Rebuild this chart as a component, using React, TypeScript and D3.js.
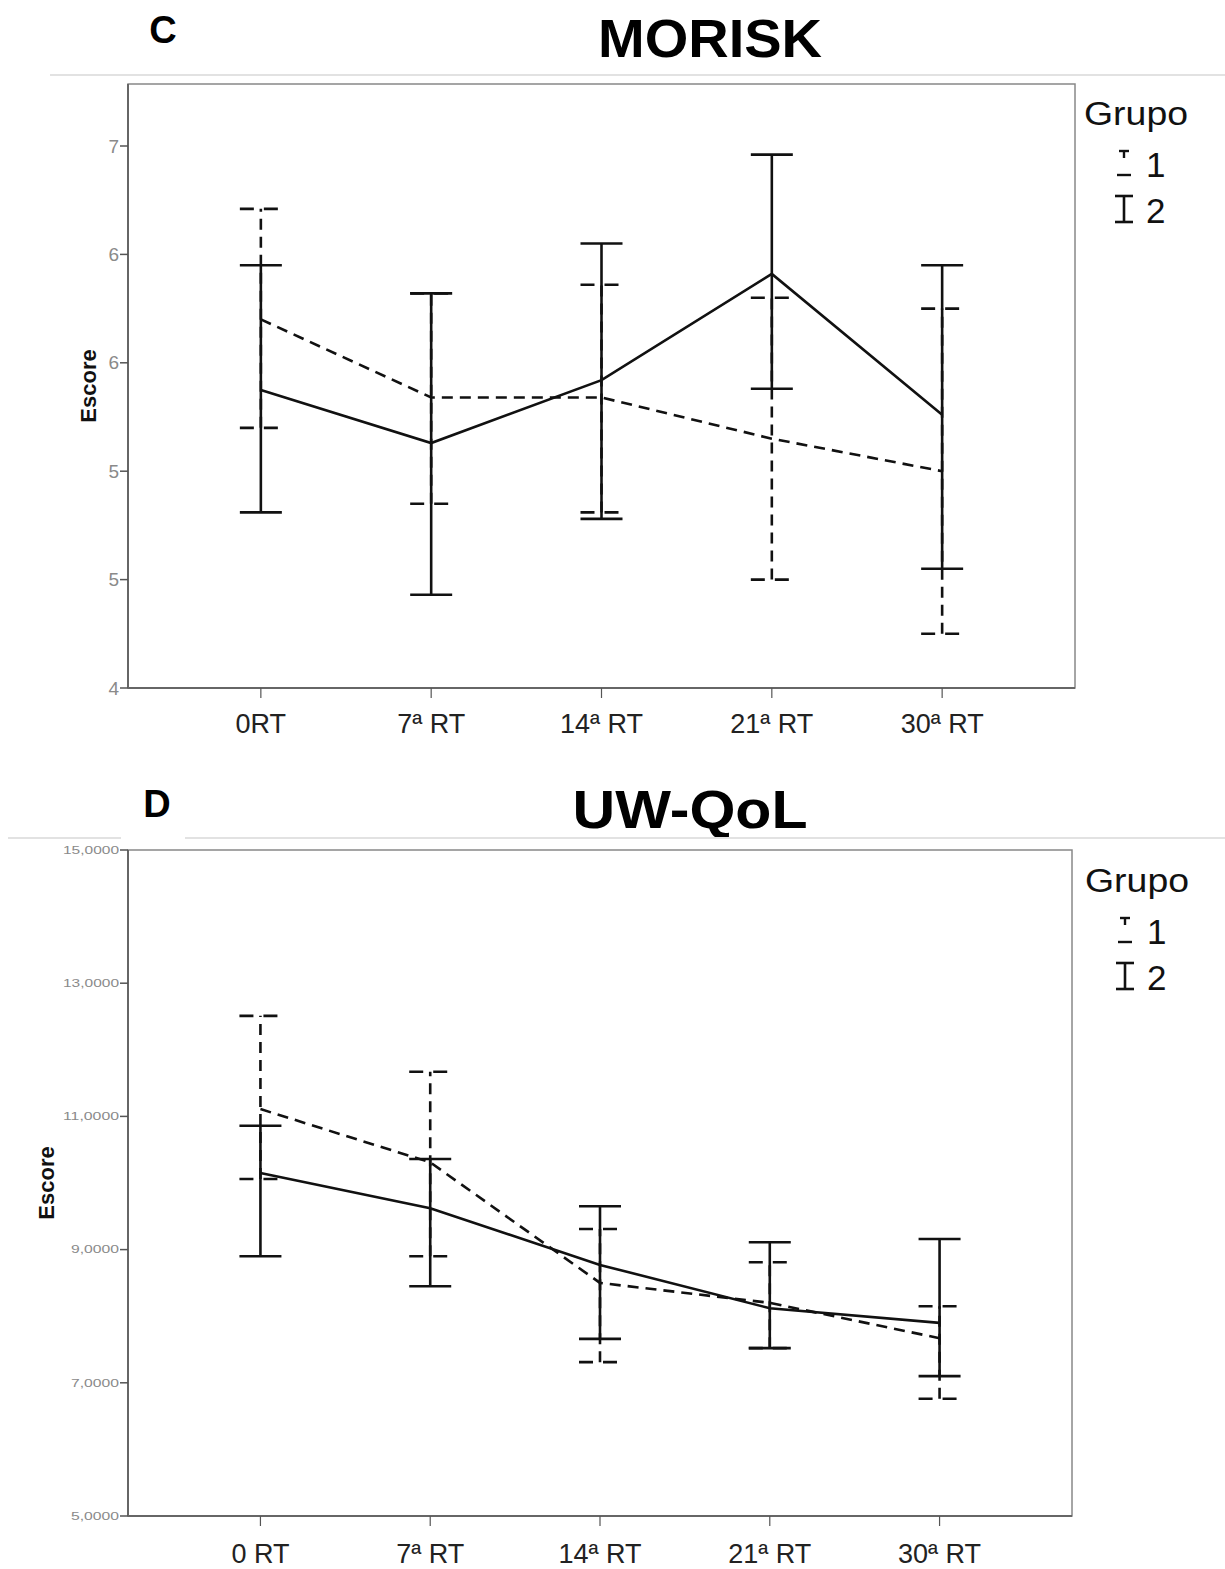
import React from "react";
import * as d3 from "d3";

const categoriesC = ["0RT", "7ª RT", "14ª RT", "21ª RT", "30ª RT"];
const categoriesD = ["0 RT", "7ª RT", "14ª RT", "21ª RT", "30ª RT"];

// MORISK
const morG1Mean = [5.70, 5.34, 5.34, 5.15, 5.0];
const morG1Low = [5.2, 4.85, 4.81, 4.5, 4.25];
const morG1High = [6.21, 5.82, 5.86, 5.8, 5.75];
const morG2Mean = [5.375, 5.13, 5.42, 5.91, 5.26];
const morG2Low = [4.81, 4.43, 4.78, 5.38, 4.55];
const morG2High = [5.95, 5.82, 6.05, 6.46, 5.95];
const morTicks = [4, 4.5, 5, 5.5, 6, 6.5];
const morTickLabels = ["4", "5", "5", "6", "6", "7"];

// UW-QoL
const uwG1Mean = [11.11, 10.31, 8.50, 8.20, 7.67];
const uwG1Low = [10.06, 8.90, 7.31, 7.52, 6.76];
const uwG1High = [12.51, 11.67, 9.31, 8.81, 8.15];
const uwG2Mean = [10.15, 9.62, 8.77, 8.12, 7.90];
const uwG2Low = [8.90, 8.45, 7.66, 7.52, 7.10];
const uwG2High = [10.86, 10.36, 9.65, 9.11, 9.16];
const uwTicks = [5, 7, 9, 11, 13, 15];
const uwTickLabels = ["5,0000", "7,0000", "9,0000", "11,0000", "13,0000", "15,0000"];

const groups = ["1", "2"];

type PanelProps = {
  cats: string[];
  g1: [number[], number[], number[]];
  g2: [number[], number[], number[]];
  domain: [number, number];
  ticks: number[];
  tickLabels: string[];
  left: number; right: number; top: number; bottom: number;
  tickFont: number;
  tickStretch: number;
  tickLabelX: number;
  escoreX: number;
  xLabelY: number;
  legendY: number;
  legendX: number;
};

const FONT = "'Liberation Sans', Arial, Helvetica, sans-serif";

function Panel(p: PanelProps) {
  const x = d3.scalePoint<string>().domain(p.cats).range([p.left, p.right]).padding(0.78);
  const y = d3.scaleLinear().domain(p.domain).range([p.bottom, p.top]);
  const line = d3.line<number>().x((_, i) => x(p.cats[i])!).y((v) => y(v));
  const cap = 21;
  const bars = (s: [number[], number[], number[]], dashed: boolean) =>
    p.cats.map((c, i) => {
      const cx = x(c)!;
      const dash = dashed ? "11,7" : undefined;
      const capDash = dashed ? "14,10" : undefined;
      return (
        <g key={c}>
          <line x1={cx} x2={cx} y1={y(s[1][i])} y2={y(s[2][i])} stroke="#111" strokeWidth={2.6} strokeDasharray={dash} />
          <line x1={cx - cap} x2={cx + cap} y1={y(s[1][i])} y2={y(s[1][i])} stroke="#111" strokeWidth={2.6} strokeDasharray={capDash} />
          <line x1={cx - cap} x2={cx + cap} y1={y(s[2][i])} y2={y(s[2][i])} stroke="#111" strokeWidth={2.6} strokeDasharray={capDash} />
        </g>
      );
    });
  const mid = (p.top + p.bottom) / 2;
  return (
    <g>
      <rect x={p.left} y={p.top} width={p.right - p.left} height={p.bottom - p.top} fill="none" stroke="#888" strokeWidth={1.5} />
      <line x1={p.left} x2={p.left} y1={p.top} y2={p.bottom} stroke="#666" strokeWidth={2} />
      <line x1={p.left} x2={p.right} y1={p.bottom} y2={p.bottom} stroke="#666" strokeWidth={2} />
      {p.ticks.map((t, i) => (
        <g key={t}>
          <line x1={p.left - 8} x2={p.left} y1={y(t)} y2={y(t)} stroke="#555" strokeWidth={1.5} />
          <text x={p.tickLabelX} y={y(t)} dy="0.35em" textAnchor="end" fontSize={p.tickFont} fill="#8a8a8a" fontFamily={FONT}
            textLength={p.tickStretch > 0 ? p.tickLabels[i].length * p.tickStretch : undefined}
            lengthAdjust="spacingAndGlyphs">{p.tickLabels[i]}</text>
        </g>
      ))}
      {p.cats.map((c) => (
        <g key={c}>
          <line x1={x(c)!} x2={x(c)!} y1={p.bottom} y2={p.bottom + 10} stroke="#555" strokeWidth={1.2} />
          <text x={x(c)!} y={p.xLabelY} textAnchor="middle" fontSize={27} fill="#222" fontFamily={FONT}>{c}</text>
        </g>
      ))}
      <text transform={`translate(${p.escoreX},${mid}) rotate(-90)`} textAnchor="middle" fontSize={22} fontWeight="bold" fill="#111" fontFamily={FONT}>Escore</text>
      {bars(p.g1, true)}
      {bars(p.g2, false)}
      <path d={line(p.g1[0])!} fill="none" stroke="#111" strokeWidth={2.6} strokeDasharray="11,7" />
      <path d={line(p.g2[0])!} fill="none" stroke="#111" strokeWidth={2.6} />
      <g fontFamily={FONT}>
        <text x={p.legendX - 40} y={p.legendY} fontSize={34} fill="#111" textLength={104} lengthAdjust="spacingAndGlyphs">Grupo</text>
        {groups.map((g, i) => {
          const ly = p.legendY + 51 + i * 46;
          const lx = p.legendX;
          return (
            <g key={g}>
              {i === 0 ? (
                <g>
                  <line x1={lx - 5} x2={lx + 5} y1={ly - 25} y2={ly - 25} stroke="#111" strokeWidth={2.4} />
                  <line x1={lx} x2={lx} y1={ly - 25} y2={ly - 18} stroke="#111" strokeWidth={2.4} />
                  <line x1={lx - 7} x2={lx + 7} y1={ly - 1} y2={ly - 1} stroke="#111" strokeWidth={2.4} />
                </g>
              ) : (
                <g>
                  <line x1={lx} x2={lx} y1={ly - 26} y2={ly} stroke="#111" strokeWidth={2.6} />
                  <line x1={lx - 9} x2={lx + 9} y1={ly - 26} y2={ly - 26} stroke="#111" strokeWidth={2.6} />
                  <line x1={lx - 9} x2={lx + 9} y1={ly} y2={ly} stroke="#111" strokeWidth={2.6} />
                </g>
              )}
              <text x={lx + 22} y={ly + 1} fontSize={35} fill="#111">{g}</text>
            </g>
          );
        })}
      </g>
    </g>
  );
}

export default function App() {
  return (
    <svg width={1225} height={1569} style={{ position: "absolute", top: 0, left: 0, background: "#fff" }}>
      <rect width={1225} height={1569} fill="#fff" />
      <text x={163} y={43} textAnchor="middle" fontSize={38} fontWeight="bold" fontFamily={FONT} fill="#000">C</text>
      <text x={710} y={57} textAnchor="middle" fontSize={54} fontWeight="bold" fontFamily={FONT} fill="#000" textLength={224} lengthAdjust="spacingAndGlyphs">MORISK</text>
      <line x1={50} x2={1225} y1={75} y2={75} stroke="#e2e2e2" strokeWidth={2} />
      <Panel cats={categoriesC} g1={[morG1Mean, morG1Low, morG1High]} g2={[morG2Mean, morG2Low, morG2High]}
        domain={[4, 4 + 604 / 216.8]} ticks={morTicks} tickLabels={morTickLabels}
        left={128} right={1075} top={84} bottom={688} tickFont={19} tickStretch={0} tickLabelX={119} escoreX={96}
        xLabelY={733} legendY={125} legendX={1124} />
      <text x={157} y={817} textAnchor="middle" fontSize={38} fontWeight="bold" fontFamily={FONT} fill="#000">D</text>
      <text x={690} y={828} textAnchor="middle" fontSize={54} fontWeight="bold" fontFamily={FONT} fill="#000" textLength={235} lengthAdjust="spacingAndGlyphs">UW-QoL</text>
      <line x1={8} x2={121} y1={838} y2={838} stroke="#e2e2e2" strokeWidth={2} />
      <line x1={185} x2={1225} y1={838} y2={838} stroke="#e2e2e2" strokeWidth={2} />
      <Panel cats={categoriesD} g1={[uwG1Mean, uwG1Low, uwG1High]} g2={[uwG2Mean, uwG2Low, uwG2High]}
        domain={[5, 15]} ticks={uwTicks} tickLabels={uwTickLabels}
        left={128} right={1072} top={850} bottom={1516} tickFont={11} tickStretch={8} tickLabelX={119} escoreX={54}
        xLabelY={1563} legendY={892} legendX={1125} />
    </svg>
  );
}
